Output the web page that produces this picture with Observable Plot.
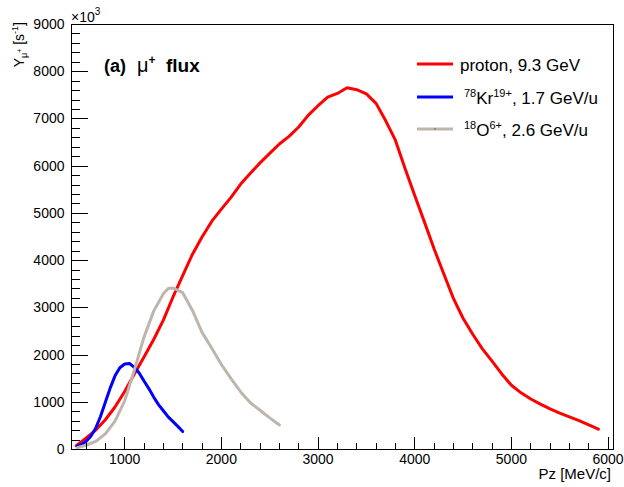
<!DOCTYPE html>
<html>
<head>
<meta charset="utf-8">
<script src="https://cdn.jsdelivr.net/npm/d3@7"></script>
<script src="https://cdn.jsdelivr.net/npm/@observablehq/plot@0.6"></script>
</head>
<body style="margin:0">
<div id="chart"></div>
<script>
// ---- data (Pz in MeV/c, yield in units of 10^3 s^-1) ----
const protonPz = [500,600,700,800,900,1000,1100,1200,1300,1400,1500,1600,1700,1800,1900,2000,2100,2200,2300,2400,2500,2600,2700,2800,2900,3000,3100,3200,3300,3400,3500,3600,3700,3800,3900,4000,4100,4200,4300,4400,4500,4600,4700,4800,4900,5000,5100,5200,5300,5400,5500,5600,5700,5800,5900];
const protonY  = [80,240,410,630,900,1230,1600,1960,2330,2740,3230,3680,4130,4500,4830,5090,5340,5620,5850,6070,6270,6470,6630,6830,7080,7280,7460,7540,7660,7620,7530,7330,6960,6550,5950,5380,4820,4250,3720,3200,2780,2440,2130,1870,1600,1360,1200,1070,960,860,770,690,610,520,430];

const krPz = [510,550,600,650,700,750,800,850,900,950,1000,1050,1100,1150,1200,1250,1300,1350,1400,1450,1500,1550,1600];
const krY  = [70,100,170,280,450,700,1000,1300,1560,1730,1810,1820,1740,1620,1450,1290,1110,950,820,690,590,490,380];

const oPz = [510,600,700,800,900,1000,1100,1200,1300,1400,1450,1500,1600,1700,1800,1900,2000,2100,2200,2300,2400,2500,2600];
const oY  = [40,90,170,330,600,1030,1680,2380,2930,3300,3410,3420,3320,2950,2480,2150,1800,1500,1220,990,830,670,520];

const xMajor = [1000,2000,3000,4000,5000,6000];
const xMinor = [600,800,1200,1400,1600,1800,2200,2400,2600,2800,3200,3400,3600,3800,4200,4400,4600,4800,5200,5400,5600,5800];
const yMajor = [0,1000,2000,3000,4000,5000,6000,7000,8000,9000];
const yMinor = [200,400,600,800,1200,1400,1600,1800,2200,2400,2600,2800,3200,3400,3600,3800,4200,4400,4600,4800,5200,5400,5600,5800,6200,6400,6600,6800,7200,7400,7600,7800,8200,8400,8600,8800];

const seriesNames = ["proton, 9.3 GeV", "78Kr19+, 1.7 GeV/u", "18O6+, 2.6 GeV/u"];
const seriesColors = ["#ff0000", "#0000ff", "#beb6ad"];

const toRows = (px, py, s) => px.map((x, i) => ({pz: x, y: py[i], s}));
const rows = [
  ...toRows(protonPz, protonY, seriesNames[0]),
  ...toRows(krPz, krY, seriesNames[1]),
  ...toRows(oPz, oY, seriesNames[2])
];

const W = 624, H = 487;
const mL = 71, mR = 11, mT = 24, mB = 38;
const innerW = W - mL - mR, innerH = H - mT - mB;
const xDom = [450, 6056], yDom = [0, 9000];
const FONT = "Liberation Sans, Arial, Helvetica, sans-serif";

const chart = Plot.plot({
  width: W,
  height: H,
  marginLeft: mL, marginRight: mR, marginTop: mT, marginBottom: mB,
  x: {domain: xDom},
  y: {domain: yDom},
  color: {domain: seriesNames, range: seriesColors},
  marks: [
    Plot.line(rows, {x: "pz", y: "y", z: "s", stroke: "s", strokeWidth: 3, strokeLinejoin: "round", strokeLinecap: "round"}),
    Plot.axisX(xMajor, {tickSize: 0, tickPadding: 5, tickFormat: d => String(d), fontSize: 14, fontFamily: FONT, label: null}),
    Plot.axisY(yMajor, {tickSize: 0, tickPadding: 7, tickFormat: d => String(d), fontSize: 14, fontFamily: FONT, label: null}),
    Plot.frame()
  ]
});

document.getElementById("chart").appendChild(chart);

const svg = d3.select(chart);
const xs = chart.scale("x"), ys = chart.scale("y");

// inward ROOT-style ticks as filled 1px rects, positioned through Plot's scales
const tg = svg.append("g").attr("fill", "#000");
const yB = H - mB;
const tickXs = (vals, len) => vals.forEach(v => {
  const px = Math.round(xs.apply(v));
  tg.append("rect").attr("x", px).attr("y", yB - len).attr("width", 1).attr("height", len);
});
const tickYs = (vals, len) => vals.forEach(v => {
  const py = Math.round(ys.apply(v));
  tg.append("rect").attr("x", mL).attr("y", py).attr("width", len).attr("height", 1);
});
tickXs(xMajor, 12); tickXs(xMinor, 6);
tickYs(yMajor, 17); tickYs(yMinor, 9);

// ---- annotations (real text) ----
const g = svg.append("g").attr("font-family", FONT).attr("fill", "#000").attr("text-anchor", "start");

g.append("text").attr("x", 611).attr("y", 479).attr("text-anchor", "end")
  .attr("font-size", 15).text("Pz [MeV/c]");

const yt = g.append("text").attr("transform", "translate(24,22) rotate(-90)")
  .attr("text-anchor", "end").attr("font-size", 14);
yt.append("tspan").text("Y");
yt.append("tspan").attr("font-size", 9).attr("dy", 3).text("μ");
yt.append("tspan").attr("font-size", 7).attr("dy", -5).text("+");
yt.append("tspan").attr("dy", 2).text(" [s");
yt.append("tspan").attr("font-size", 9).attr("dy", -6).text("-1");
yt.append("tspan").attr("dy", 6).text("]");

const mult = g.append("text").attr("x", 71).attr("y", 22).attr("font-size", 14);
mult.append("tspan").text("×10");
mult.append("tspan").attr("font-size", 10).attr("dy", -7).text("3");

const title = g.append("text").attr("x", 104).attr("y", 72).attr("font-size", 18).attr("font-weight", "bold");
title.append("tspan").text("(a)");
title.append("tspan").attr("x", 137).attr("font-weight", "normal").attr("font-size", 20).text("μ");
title.append("tspan").attr("font-size", 12).attr("dy", -8).text("+");
title.append("tspan").attr("x", 166).attr("dy", 8).attr("font-size", 19).text("flux");

const legRows = [
  {y: 64, parts: [["proton, 9.3 GeV", 0]]},
  {y: 97, parts: [["78", -1], ["Kr", 0], ["19+", -1], [", 1.7 GeV/u", 0]]},
  {y: 129, parts: [["18", -1], ["O", 0], ["6+", -1], [", 2.6 GeV/u", 0]]}
];
legRows.forEach((r, i) => {
  g.append("line").attr("x1", 417).attr("x2", 453).attr("y1", r.y).attr("y2", r.y)
    .attr("stroke", seriesColors[i]).attr("stroke-width", 3);
  const t = g.append("text").attr("x", i === 0 ? 460 : 464).attr("y", r.y + 7).attr("font-size", 17);
  let cur = 0;
  r.parts.forEach(([s, lvl]) => {
    const sp = t.append("tspan").text(s);
    if (lvl === -1) {
      sp.attr("font-size", 11).attr("dy", -7 - cur);
      cur = -7;
    } else {
      sp.attr("dy", -cur);
      cur = 0;
    }
  });
});
g.append("circle").attr("cx", 435).attr("cy", 129).attr("r", 0.8).attr("fill", "#555");
</script>
</body>
</html>
